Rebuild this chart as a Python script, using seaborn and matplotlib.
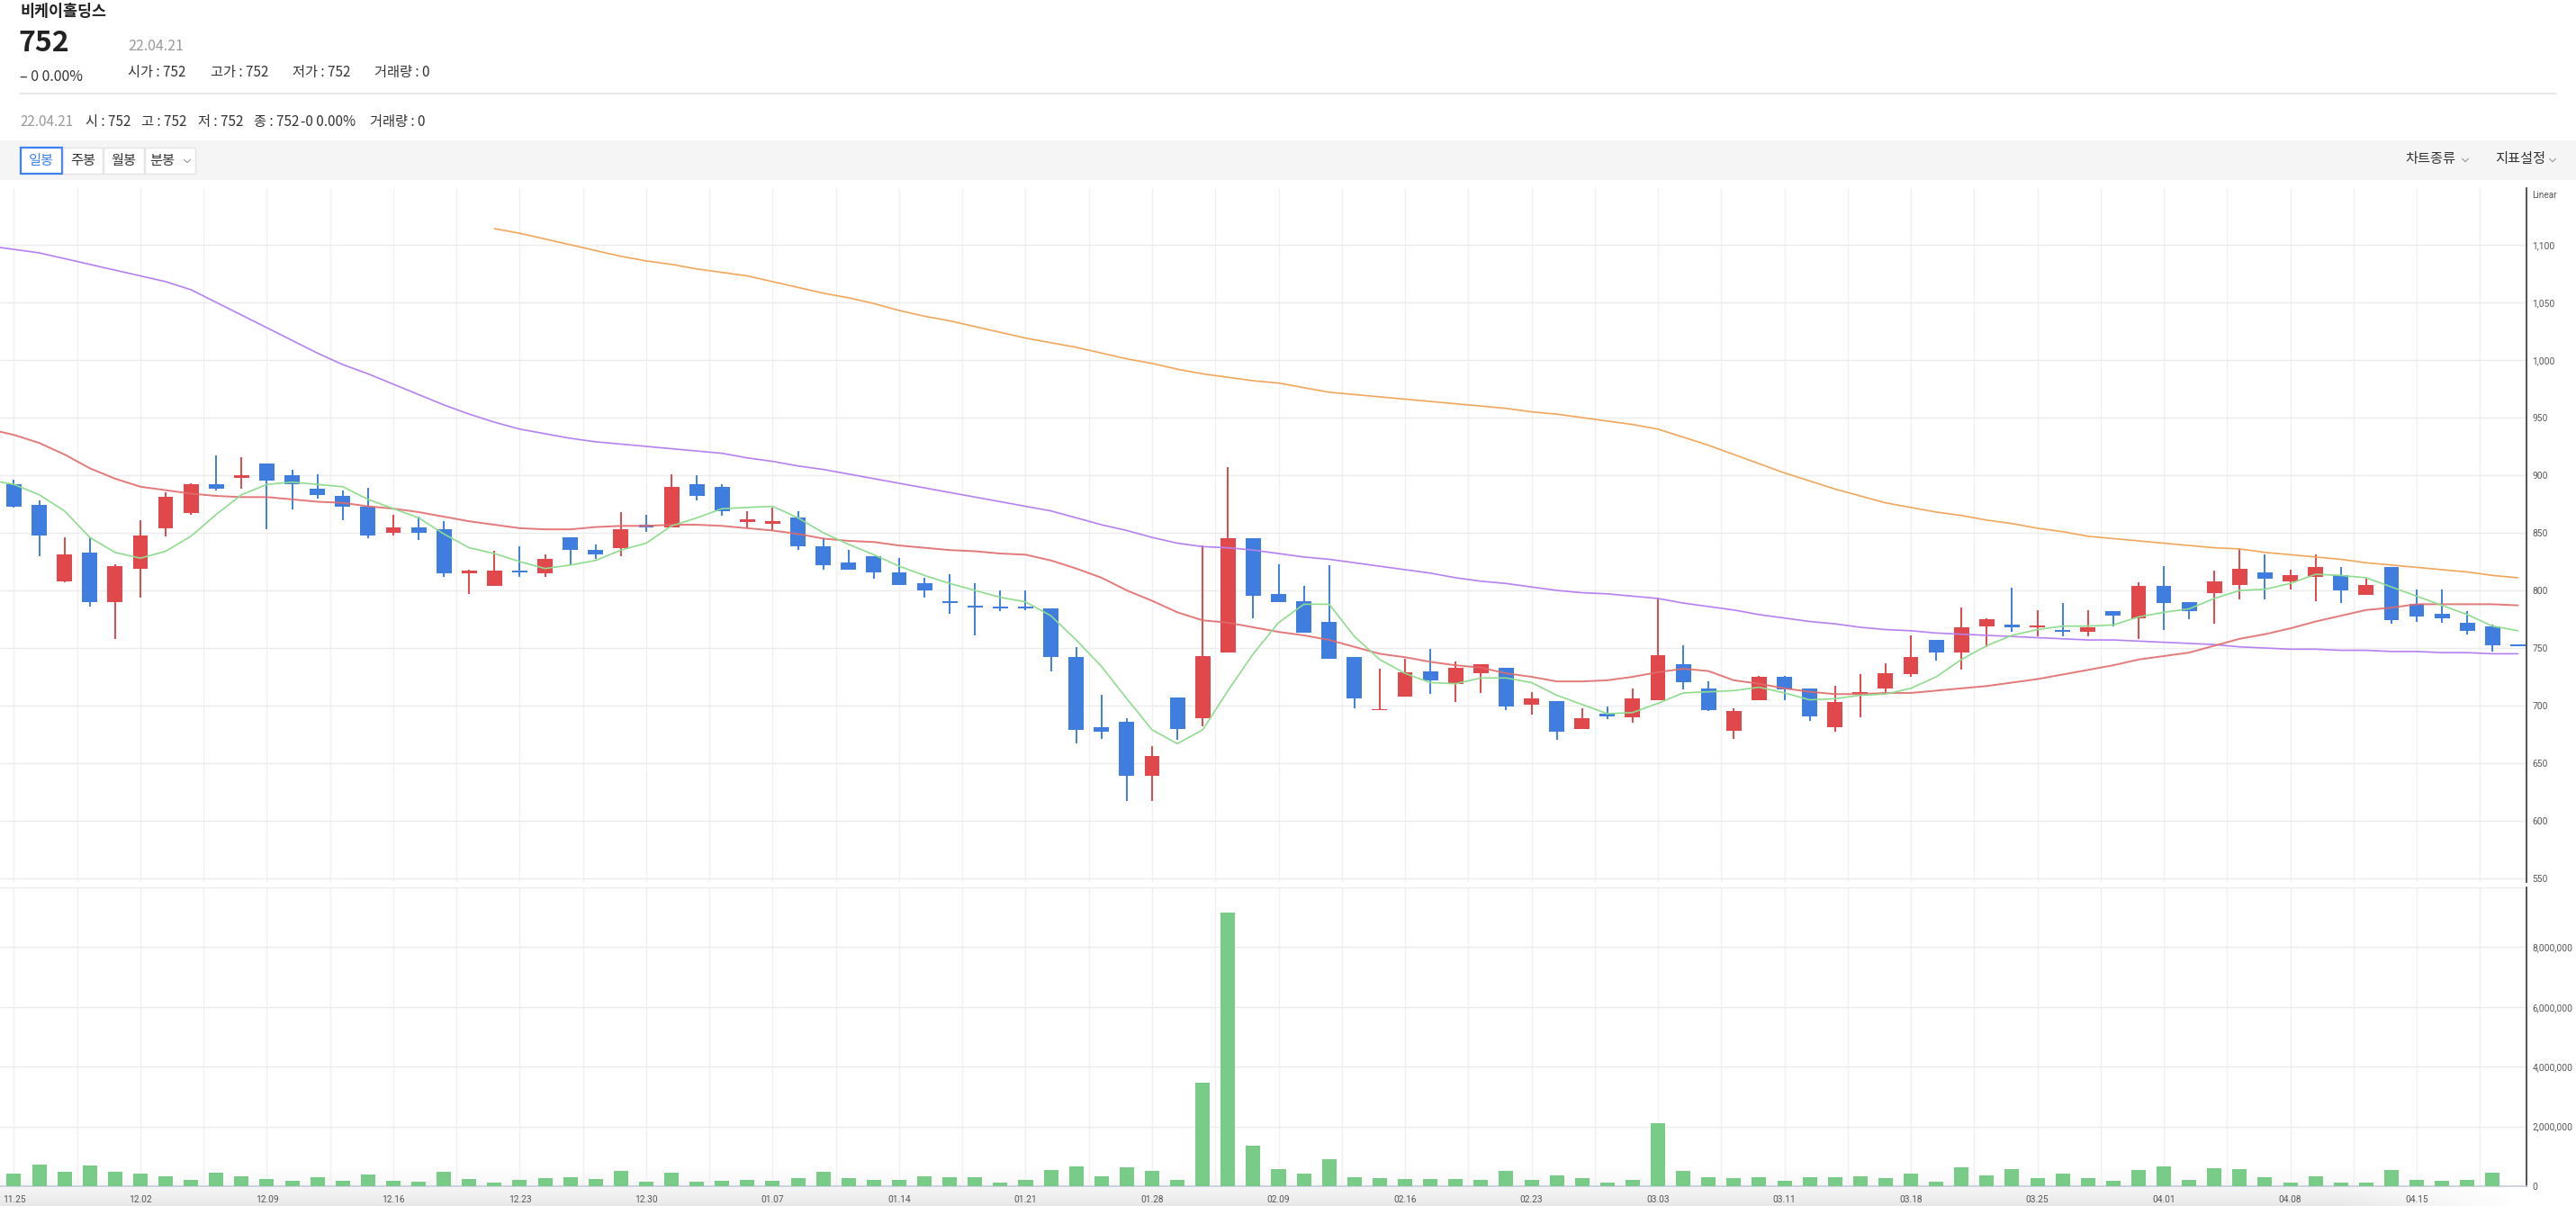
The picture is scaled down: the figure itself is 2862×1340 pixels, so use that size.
import numpy as np
import pandas as pd
import matplotlib
matplotlib.use("Agg")
import matplotlib.pyplot as plt
import seaborn as sns
from matplotlib.patches import Rectangle
from matplotlib.lines import Line2D

# ---------------- data ----------------
tick_labels = ['11.25', '12.02', '12.09', '12.16', '12.23', '12.30', '01.07', '01.14',
               '01.21', '01.28', '02.09', '02.16', '02.23', '03.03', '03.11', '03.18',
               '03.25', '04.01', '04.08', '04.15']

opens = [892, 874, 808, 833, 790, 819, 854, 867, 892, 898,
         910, 900, 888, 882, 873, 850, 855, 853, 815, 804,
         817, 815, 846, 835, 837, 857, 855, 892, 890, 859,
         858, 863, 838, 824, 830, 816, 806, 791, 787, 786,
         786, 784, 742, 681, 686, 639, 707, 689, 746, 845,
         797, 791, 773, 742, 696, 708, 730, 719, 728, 733,
         701, 704, 680, 693, 690, 705, 736, 715, 678, 705,
         725, 715, 681, 710, 715, 727, 757, 746, 769, 770,
         768, 766, 764, 782, 776, 804, 790, 798, 805, 816,
         808, 812, 813, 796, 820, 788, 780, 772, 769, 752]

highs = [896, 878, 846, 846, 823, 861, 885, 893, 917, 916,
         910, 905, 901, 887, 889, 866, 864, 860, 818, 834,
         838, 831, 846, 840, 868, 866, 901, 900, 892, 869,
         872, 869, 845, 835, 830, 828, 811, 814, 806, 800,
         800, 784, 751, 709, 689, 665, 707, 839, 907, 845,
         823, 804, 822, 742, 732, 741, 749, 738, 736, 733,
         712, 704, 698, 699, 715, 794, 752, 721, 698, 726,
         726, 715, 717, 727, 737, 761, 757, 785, 776, 802,
         783, 789, 783, 782, 807, 821, 790, 817, 836, 831,
         818, 831, 820, 810, 820, 801, 801, 782, 770, 752]

lows = [872, 830, 807, 786, 758, 794, 847, 866, 887, 888,
        853, 870, 880, 861, 845, 848, 844, 812, 797, 804,
        812, 812, 822, 827, 830, 851, 855, 878, 865, 854,
        852, 835, 818, 818, 810, 805, 794, 780, 761, 782,
        783, 730, 667, 671, 617, 617, 670, 682, 746, 776,
        790, 763, 741, 698, 696, 708, 710, 703, 711, 696,
        692, 670, 680, 688, 685, 705, 714, 695, 671, 705,
        705, 687, 677, 690, 712, 725, 739, 731, 751, 764,
        760, 760, 760, 769, 758, 766, 775, 771, 792, 792,
        801, 791, 789, 796, 771, 773, 772, 762, 747, 752]

closes = [873, 848, 831, 790, 821, 848, 881, 892, 888, 900,
          895, 892, 883, 873, 848, 855, 850, 815, 817, 817,
          816, 827, 835, 831, 853, 855, 890, 882, 869, 862,
          860, 838, 822, 818, 816, 805, 800, 789, 785, 785,
          784, 742, 679, 677, 639, 656, 680, 743, 845, 795,
          790, 763, 741, 706, 697, 729, 722, 733, 736, 699,
          706, 677, 689, 691, 706, 744, 720, 696, 695, 725,
          714, 691, 703, 712, 728, 742, 746, 768, 775, 768,
          769, 764, 768, 778, 804, 789, 782, 808, 819, 810,
          813, 820, 800, 805, 774, 777, 776, 765, 752, 752]

volumes = [434000, 737000, 495000, 707000, 495000, 434000, 343000, 222000, 465000, 343000,
           253000, 192000, 313000, 192000, 404000, 192000, 162000, 495000, 253000, 131000,
           222000, 283000, 313000, 253000, 525000, 162000, 465000, 162000, 192000, 222000,
           192000, 283000, 495000, 283000, 222000, 222000, 343000, 313000, 313000, 131000,
           222000, 556000, 677000, 343000, 640000, 520000, 220000, 3460000, 9160000, 1360000,
           580000, 430000, 910000, 310000, 280000, 253000, 253000, 253000, 222000, 525000,
           222000, 374000, 283000, 131000, 222000, 2100000, 525000, 313000, 283000, 313000,
           192000, 313000, 313000, 343000, 283000, 434000, 162000, 646000, 374000, 586000,
           283000, 434000, 283000, 192000, 556000, 677000, 222000, 616000, 586000, 313000,
           131000, 343000, 131000, 131000, 556000, 222000, 192000, 222000, 465000, 0]

# moving averages start one session before the first visible candle (index -1)
ma_start = -1
ma5 = [896, 892, 883, 869, 846, 833, 828, 834, 847, 866, 883,
       892, 894, 892, 890, 879, 871, 863, 849, 837, 832,
       825, 819, 822, 826, 835, 841, 856, 863, 871, 872,
       873, 863, 850, 840, 831, 821, 813, 806, 800, 794,
       790, 778, 757, 734, 706, 679, 667, 679, 713, 745,
       772, 788, 788, 760, 740, 728, 720, 719, 724, 724,
       720, 709, 701, 693, 694, 702, 711, 712, 713, 716,
       711, 705, 706, 709, 710, 715, 725, 740, 752, 761,
       766, 769, 769, 770, 777, 781, 784, 793, 800, 801,
       806, 814, 813, 811, 803, 795, 787, 779, 769, 765]

ma20 = [940, 935, 928, 918, 906, 897, 890, 887, 884, 882, 881,
        881, 879, 877, 876, 873, 871, 868, 864, 860, 857,
        854, 853, 853, 855, 856, 856, 857, 857, 856, 854,
        852, 849, 845, 843, 842, 839, 837, 835, 834, 832,
        831, 826, 819, 811, 800, 791, 781, 774, 772, 768,
        764, 761, 757, 751, 745, 742, 738, 735, 733, 728,
        725, 721, 721, 722, 725, 729, 732, 730, 722, 719,
        715, 712, 710, 710, 711, 711, 713, 715, 717, 720,
        723, 727, 731, 735, 740, 743, 746, 752, 758, 762,
        767, 773, 778, 783, 785, 788, 788, 788, 788, 787]

ma60 = [1099, 1096, 1093, 1088, 1083, 1078, 1073, 1068, 1061, 1050, 1039,
        1028, 1017, 1006, 996, 988, 979, 970, 961, 953, 946,
        940, 936, 932, 929, 927, 925, 923, 921, 919, 915,
        912, 908, 905, 901, 897, 893, 889, 885, 881, 877,
        873, 869, 863, 857, 852, 846, 841, 838, 837, 835,
        832, 829, 827, 824, 821, 818, 815, 811, 808, 806,
        803, 800, 798, 797, 795, 793, 789, 786, 783, 779,
        776, 773, 771, 768, 766, 765, 763, 762, 761, 760,
        759, 758, 757, 757, 756, 755, 754, 753, 751, 750,
        749, 749, 748, 748, 747, 747, 746, 746, 745, 745]

ma120_start = 19
ma120 = [1114, 1110, 1105, 1100, 1095, 1090, 1086, 1083, 1079, 1076, 1073,
         1068, 1063, 1058, 1054, 1049, 1043, 1038, 1034, 1029, 1024,
         1019, 1015, 1011, 1006, 1001, 997, 992, 988, 985, 982,
         980, 976, 972, 970, 968, 966, 964, 962, 960, 958,
         955, 953, 950, 947, 944, 940, 933, 926, 918, 910,
         902, 895, 888, 882, 876, 872, 868, 865, 861, 858,
         854, 851, 847, 845, 843, 841, 839, 837, 836, 833,
         831, 829, 827, 824, 822, 820, 818, 816, 813, 811]

price_ticks = [550, 600, 650, 700, 750, 800, 850, 900, 950, 1000, 1050, 1100]
volume_ticks = [0, 2000000, 4000000, 6000000, 8000000]

# ---------------- style ----------------
sns.set_theme(style="white")
plt.rcParams['font.family'] = ['Noto Sans CJK KR', 'DejaVu Sans']
TICKFONT = ['Roboto', 'DejaVu Sans']

RED = '#e0484c'
BLUE = '#3f7edf'
VOLC = '#79cb88'
GRID = '#f0f0f0'

W, H = 2862, 1340
fig = plt.figure(figsize=(W / 100, H / 100), dpi=100)
fig.patch.set_facecolor('white')


def fx(x):
    return x / W


def fy(y):
    return 1 - y / H


def add_ax(x0, y0, x1, y1, **kw):
    return fig.add_axes([x0 / W, 1 - y1 / H, (x1 - x0) / W, (y1 - y0) / H], **kw)


def ftext(x, y, s, **kw):
    kw.setdefault('va', 'center')
    fig.text(fx(x), fy(y), s, **kw)


def chevron(xc, yc, w=7, h=3.5, color='#999999'):
    fig.lines.append(Line2D([fx(xc - w / 2), fx(xc), fx(xc + w / 2)],
                            [fy(yc - h / 2), fy(yc + h / 2), fy(yc - h / 2)],
                            transform=fig.transFigure, color=color, lw=0.8))


# ---------------- header ----------------
DARK = '#222222'
TXT = '#333333'
GRAY = '#999999'
ftext(22, 13, '비케이홀딩스', fontsize=12.5, fontweight='bold', color=DARK)
ftext(20, 48, '752', fontsize=23, fontweight='bold', color=DARK)
ftext(142, 51.5, '22.04.21', fontsize=11.5, color=GRAY)
ftext(22, 85, '– 0 0.00%', fontsize=11.5, color=TXT)
for xx, s in [(142, '시가 : 752'), (234, '고가 : 752'), (325, '저가 : 752'), (416, '거래량 : 0')]:
    ftext(xx, 80, s, fontsize=11, color=TXT)
fig.lines.append(Line2D([fx(22), fx(2840)], [fy(104), fy(104)],
                        transform=fig.transFigure, color='#e2e2e2', lw=1.2))
ftext(22, 135.5, '22.04.21', fontsize=11, color=GRAY)
for xx, s in [(95, '시 : 752'), (157, '고 : 752'), (220, '저 : 752'), (282, '종 : 752'),
              (334, '-0 0.00%'), (411, '거래량 : 0')]:
    ftext(xx, 135.5, s, fontsize=11, color=TXT)

# toolbar
fig.patches.append(Rectangle((0, fy(200)), 1, 44 / H, transform=fig.transFigure,
                             facecolor='#f5f5f5', edgecolor='none', zorder=0))
buttons = [(23, 69, '일봉', True), (70, 114, '주봉', False), (115, 160, '월봉', False),
           (161, 217, '분봉', False)]
for x0, x1, s, sel in buttons:
    fig.patches.append(Rectangle((fx(x0), fy(193)), (x1 - x0) / W, 29 / H,
                                 transform=fig.transFigure, facecolor='white',
                                 edgecolor='#3d80f0' if sel else '#e4e4e4',
                                 lw=1.6 if sel else 1.0, zorder=1))
    if s == '분봉':
        ftext(x0 + 5, 178.5, s, fontsize=11, color=TXT)
        chevron(x0 + 47, 179)
    else:
        ftext((x0 + x1) / 2, 178.5, s, fontsize=11, ha='center',
              color='#3d80f0' if sel else TXT)
ftext(2672, 176.5, '차트종류', fontsize=11, color=TXT)
chevron(2739, 178)
ftext(2772, 176.5, '지표설정', fontsize=11, color=TXT)
chevron(2836, 178)

# bottom shade
gax = fig.add_axes([0, 0, 1, 50 / H], zorder=-5)
gax.axis('off')
ny, nx = 50, 400
xs_px = np.linspace(0, W, nx)
hfade = np.clip((2800 - xs_px) / 200, 0, 1)
vfade = np.linspace(0, 1, ny) ** 1.6
img = np.zeros((ny, nx, 4))
img[..., :3] = 0.55
img[..., 3] = 0.2 * vfade[:, None] * hfade[None, :]
gax.imshow(img, extent=[0, 1, 0, 1], aspect='auto', origin='upper')
gax.set_xlim(0, 1)
gax.set_ylim(0, 1)

# ---------------- axes ----------------
x = np.arange(len(closes))
xma = np.arange(ma_start, ma_start + len(ma5))
XL = (-0.55, 99.34)
axp = add_ax(0, 209, 2807, 980)
axv = add_ax(0, 986, 2807, 1318)
for ax in (axp, axv):
    ax.set_facecolor('none')
    for sp in ax.spines.values():
        sp.set_visible(False)
    ax.spines['right'].set_visible(True)
    ax.spines['right'].set_color('#333333')
    ax.spines['right'].set_linewidth(1.2)
    ax.set_xlim(*XL)
    for g in np.arange(0, 100, 2.5):
        ax.axvline(g, color=GRID, lw=1.0, zorder=0)

# price panel
for p in price_ticks:
    axp.axhline(p, color='#ececec', lw=1.0, zorder=0)
o = np.array(opens, float)
c = np.array(closes, float)
hi = np.array(highs, float)
lo = np.array(lows, float)
cols = np.where(c > o, RED, BLUE)
axp.vlines(x, lo, hi, colors=cols, linewidth=1.4, zorder=3)
bh = np.abs(c - o)
bb = np.minimum(o, c)
minh = 1.5
bb = np.where(bh < minh, (o + c) / 2 - minh / 2, bb)
bh = np.maximum(bh, minh)
axp.bar(x, bh, bottom=bb, width=0.6, color=cols, linewidth=0, zorder=4)

sns.lineplot(x=np.arange(ma120_start, ma120_start + len(ma120)), y=ma120, ax=axp,
             color='#f2a65a', linewidth=1.2, zorder=5)
sns.lineplot(x=xma, y=ma60, ax=axp, color='#b680f2', linewidth=1.2, zorder=5)
sns.lineplot(x=xma, y=ma20, ax=axp, color='#e26a6a', linewidth=1.4, alpha=0.9, zorder=5)
sns.lineplot(x=xma, y=ma5, ax=axp, color='#8edc8e', linewidth=1.2, zorder=6)

axp.set_xlim(*XL)
axp.set_ylim(546.9, 1149.2)
axp.yaxis.tick_right()
axp.set_yticks(price_ticks)
axp.set_yticklabels([f'{v:,}' for v in price_ticks], fontfamily=TICKFONT)
axp.tick_params(axis='y', length=0, pad=4.5, labelsize=7.4, labelcolor='#555555')
axp.set_xticks([])
axp.set_xlabel('')
axp.set_ylabel('')
ftext(2813, 212, 'Linear', fontsize=7.2, color='#555555', va='top', family=TICKFONT)

# volume panel
for v in [2e6, 4e6, 6e6, 8e6, 10e6]:
    axv.axhline(v, color='#ececec', lw=1.0, zorder=0)
sns.barplot(x=x, y=volumes, native_scale=True, width=0.57, color=VOLC, saturation=1,
            errorbar=None, ax=axv, zorder=3, linewidth=0)
axv.set_xlim(*XL)
axv.set_ylim(0, 10e6)
axv.spines['bottom'].set_visible(True)
axv.spines['bottom'].set_color('#c6cce0')
axv.spines['bottom'].set_linewidth(1.2)
axv.yaxis.tick_right()
axv.set_yticks(volume_ticks)
axv.set_yticklabels([f'{v:,}' for v in volume_ticks], fontfamily=TICKFONT)
axv.tick_params(axis='y', length=0, pad=4.5, labelsize=7.4, labelcolor='#555555')
xt = np.arange(0, 100, 2.5)
axv.set_xticks(xt)
lab_map = {i * 5: t for i, t in enumerate(tick_labels)}
axv.set_xticklabels([lab_map.get(int(t), '') if t % 5 == 0 else '' for t in xt],
                    fontfamily=TICKFONT)
axv.tick_params(axis='x', length=6, width=1, color='#c6cce0', pad=1.5, labelsize=7.3,
                labelcolor='#555555')
axv.set_xlabel('')
axv.set_ylabel('')

fig.savefig('out.png', dpi=100, facecolor='white')
